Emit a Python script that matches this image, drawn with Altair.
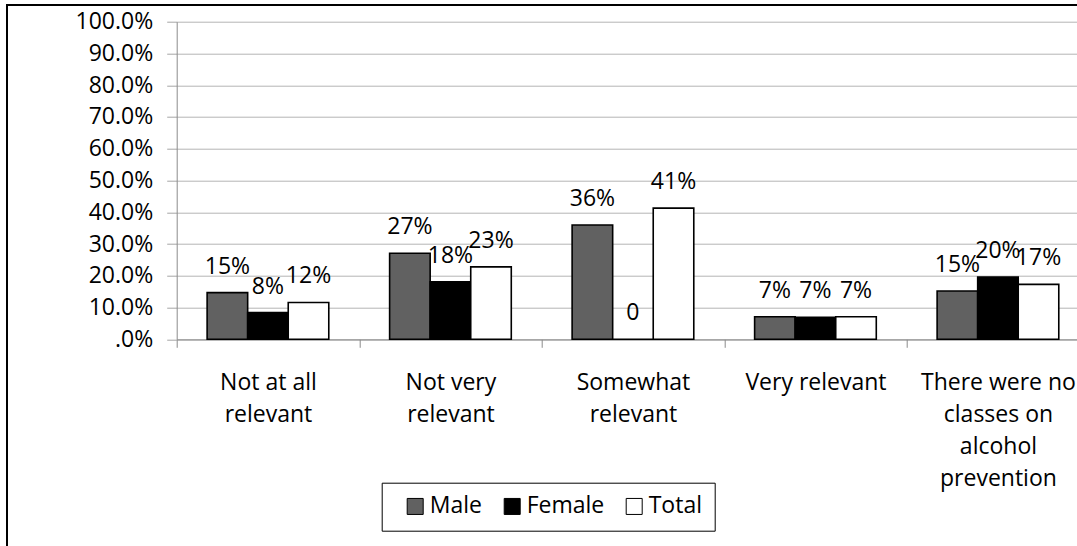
import json
import altair as alt
import pandas as pd

# Survey answers, share of respondents per group
categories = [
    "Not at all relevant",
    "Not very relevant",
    "Somewhat relevant",
    "Very relevant",
    "There were no classes on alcohol prevention",
]
category_lines = [
    ["Not at all", "relevant"],
    ["Not very", "relevant"],
    ["Somewhat", "relevant"],
    ["Very relevant"],
    ["There were no", "classes on", "alcohol", "prevention"],
]
groups = ["Male", "Female", "Total"]
male = [0.147, 0.271, 0.360, 0.071, 0.152]
female = [0.084, 0.181, 0.0, 0.069, 0.196]
total = [0.116, 0.228, 0.413, 0.071, 0.173]
group_colors = ["#616161", "#000000", "#ffffff"]

rows = []
for series_name, series in zip(groups, [male, female, total]):
    for cat, v in zip(categories, series):
        rows.append({"category": cat, "group": series_name, "share": v})
df = pd.DataFrame(rows)

FONT = "Open Sans"
FS = 23

x_label_expr = "{}[indexof({}, datum.value)]".format(
    json.dumps(category_lines), json.dumps(categories)
)

base = alt.Chart(df).encode(
    x=alt.X(
        "category:N",
        sort=categories,
        scale=alt.Scale(range=[0, 912.5], paddingInner=0, paddingOuter=0),
        axis=alt.Axis(
            title=None,
            labelAngle=0,
            labelExpr=x_label_expr,
            labelFont=FONT,
            labelFontSize=FS,
            labelColor="black",
            labelLineHeight=32,
            labelLimit=400,
            labelPadding=24,
            labelBaseline="top",
            tickBand="extent",
            tickSize=8,
            tickColor="#8c8c8c",
            domainColor="#8c8c8c",
            grid=False,
        ),
    ),
    xOffset=alt.XOffset(
        "group:N",
        sort=groups,
        scale=alt.Scale(paddingInner=0, paddingOuter=0.75),
    ),
    y=alt.Y(
        "share:Q",
        scale=alt.Scale(domain=[0, 1], nice=False),
        axis=alt.Axis(
            title=None,
            values=[i / 10 for i in range(11)],
            labelExpr="datum.value == 0 ? '.0%' : format(datum.value, '.1%')",
            labelFont=FONT,
            labelFontSize=FS,
            labelColor="black",
            labelPadding=14,
            tickSize=10,
            tickColor="#a6a6a6",
            domainColor="#8c8c8c",
            gridColor="#b4b4b4",
            gridWidth=1,
        ),
    ),
)

bars = base.mark_bar(stroke="black", strokeWidth=1.6).encode(
    color=alt.Color(
        "group:N",
        sort=groups,
        scale=alt.Scale(domain=groups, range=group_colors),
        title=None,
    )
)

labels = base.mark_text(
    font=FONT, fontSize=FS, color="black", baseline="alphabetic", dy=-19
).encode(
    text=alt.Text("label:N")
).transform_calculate(
    label="datum.share == 0 ? '0' : format(datum.share, '.0%')"
)

frame = alt.Chart(pd.DataFrame({"frame": [0]})).mark_rect(
    fill="transparent", stroke="black", strokeWidth=2
).encode(
    x=alt.value(-169.7), x2=alt.value(1500), y=alt.value(-16.7), y2=alt.value(1000)
)

chart = (
    alt.layer(bars, labels, frame)
    .properties(
        width=900.3,
        height=317.6,
        autosize=alt.AutoSizeParams(type="none"),
        padding={"left": 176.7, "top": 21.7, "right": 0, "bottom": 206.7},
        background="white",
    )
    .configure_view(stroke=None)
    .configure_legend(
        orient="none",
        legendX=205,
        legendY=461,
        direction="horizontal",
        strokeColor="black",
        padding=12,
        symbolType="square",
        symbolSize=256,
        symbolStrokeColor="black",
        symbolStrokeWidth=1,
        symbolOffset=10,
        labelFont=FONT,
        labelFontSize=FS,
        labelColor="black",
        labelOffset=3,
        columnPadding=8,
    )
)

chart.save("out.html", embed_options={"renderer": "svg", "actions": False})
